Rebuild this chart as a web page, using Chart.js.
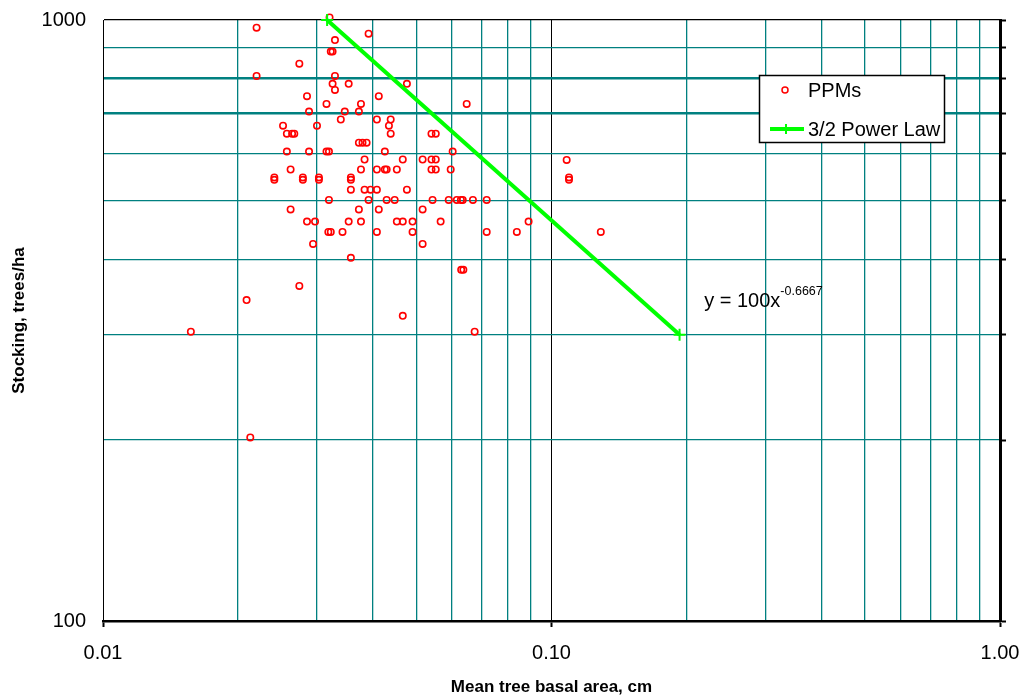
<!DOCTYPE html>
<html>
<head>
<meta charset="utf-8">
<script src="https://cdn.jsdelivr.net/npm/chart.js@4.4.1/dist/chart.umd.min.js"></script>
<style>
  html, body { margin: 0; padding: 0; background: #ffffff; }
  #wrap { width: 1025px; height: 696px; }
</style>
</head>
<body>
<div id="wrap"><canvas id="chart" width="1025" height="696"></canvas></div>
<script>
// PPM plots: mean tree basal area vs stocking (trees/ha)
const basalArea = [
  0.0320,
  0.0220,
  0.0391,
  0.0329,
  0.0322, 0.0325,
  0.0274,
  0.0220, 0.0329,
  0.0325, 0.0353, 0.0476,
  0.0329,
  0.0285, 0.0412,
  0.0315, 0.0376, 0.0647,
  0.0288, 0.0346, 0.0372,
  0.0339, 0.0408, 0.0438,
  0.0252, 0.0300, 0.0434,
  0.0257, 0.0264, 0.0267, 0.0438, 0.0540, 0.0552,
  0.0372, 0.0379, 0.0387,
  0.0257, 0.0288, 0.0315, 0.0319, 0.0425, 0.0602,
  0.0383, 0.0466, 0.0516, 0.0540, 0.0552, 0.1081,
  0.0262, 0.0376, 0.0408, 0.0425, 0.0429, 0.0452, 0.0540, 0.0552, 0.0596,
  0.0241, 0.0279, 0.0303, 0.0357, 0.1094,
  0.0241, 0.0279, 0.0303, 0.0357, 0.1094,
  0.0357, 0.0383, 0.0395, 0.0408, 0.0476,
  0.0319, 0.0391, 0.0429, 0.0447, 0.0543, 0.0590, 0.0615, 0.0628, 0.0634, 0.0668, 0.0717,
  0.0262, 0.0372, 0.0412, 0.0516,
  0.0285, 0.0297, 0.0353, 0.0376, 0.0452, 0.0466, 0.0490, 0.0566, 0.0889,
  0.0318, 0.0322, 0.0342, 0.0408, 0.0490, 0.0717, 0.0837, 0.1288,
  0.0294, 0.0516,
  0.0357,
  0.0629, 0.0636,
  0.0274,
  0.0209,
  0.0466,
  0.0157, 0.0674,
  0.0213
];
const stocking = [
  1010,
  971,
  949,
  926,
  886, 886,
  846,
  807, 807,
  783, 783, 783,
  765,
  747, 747,
  725, 725, 725,
  704, 704, 704,
  683, 683, 683,
  667, 667, 667,
  647, 647, 647, 647, 647, 647,
  625, 625, 625,
  604, 604, 604, 604, 604, 604,
  586, 586, 586, 586, 586, 585,
  564, 564, 564, 564, 564, 564, 564, 564, 564,
  547, 547, 547, 547, 547,
  542, 542, 542, 542, 542,
  522, 522, 522, 522, 522,
  502, 502, 502, 502, 502, 502, 502, 502, 502, 502, 502,
  484, 484, 484, 484,
  462, 462, 462, 462, 462, 462, 462, 462, 462,
  444, 444, 444, 444, 444, 444, 444, 444,
  424, 424,
  402,
  384, 384,
  361,
  342,
  322,
  303, 303,
  202
];

// 3/2 power law, y = 100x^-0.6667, between its two end points
const lawX = [0.0316, 0.193];
const lawY = [1000, 299.5];

// Log-scale tick positions and the ones that carry a label
const xTicks = [0.01, 0.02, 0.03, 0.04, 0.05, 0.06, 0.07, 0.08, 0.09,
                0.1, 0.2, 0.3, 0.4, 0.5, 0.6, 0.7, 0.8, 0.9, 1];
const xLabelled = [0.01, 0.1, 1];
const yTicks = [100, 200, 300, 400, 500, 600, 700, 800, 900, 1000];
const yLabelled = [100, 1000];
const yHeavy = [700, 800];

const TEAL = '#008080';
const FONT = "'Liberation Sans', Arial, Helvetica, sans-serif";

const ppmPoints = basalArea.map((x, i) => ({ x: x, y: stocking[i] }));
const lawPoints = lawX.map((x, i) => ({ x: x, y: lawY[i] }));

const setTicks = (list) => (scale) => { scale.ticks = list.map(v => ({ value: v })); };
const near = (a, b) => Math.abs(a - b) < 1e-9;

// Fix each axis box size and drop the label overhang padding
const fixBox = (w, h) => (s) => {
  if (w !== null) s.width = w;
  if (h !== null) s.height = h;
  s.paddingTop = 0; s.paddingBottom = 0; s.paddingLeft = 0; s.paddingRight = 0;
};

// Framed legend drawn inside the plot
const boxedLegend = {
  id: 'boxedLegend',
  afterDraw(chart) {
    const ctx = chart.ctx;
    const ds = chart.data.datasets;
    const x0 = 759.5, y0 = 75.5, w = 185, h = 67;
    ctx.save();
    ctx.fillStyle = '#ffffff';
    ctx.fillRect(x0, y0, w, h);
    ctx.strokeStyle = '#000000';
    ctx.lineWidth = 1.5;
    ctx.strokeRect(x0, y0, w, h);

    ctx.font = '20px ' + FONT;
    ctx.fillStyle = '#000000';
    ctx.textBaseline = 'middle';
    ctx.textAlign = 'left';

    // PPMs marker
    ctx.beginPath();
    ctx.arc(785, 90, 3, 0, Math.PI * 2);
    ctx.strokeStyle = ds[0].pointBorderColor;
    ctx.lineWidth = 1.5;
    ctx.stroke();
    ctx.fillText(ds[0].label, 808, 91);

    // power law line with its cross marker
    ctx.strokeStyle = ds[1].borderColor;
    ctx.lineWidth = 4;
    ctx.beginPath();
    ctx.moveTo(770, 129);
    ctx.lineTo(804, 129);
    ctx.stroke();
    ctx.lineWidth = 2;
    ctx.beginPath();
    ctx.moveTo(786, 124);
    ctx.lineTo(786, 134);
    ctx.stroke();
    ctx.fillText(ds[1].label, 808, 130);
    ctx.restore();
  }
};

// Equation of the power law line
const equationLabel = {
  id: 'equationLabel',
  afterDraw(chart) {
    const ctx = chart.ctx;
    const px = chart.scales.x.getPixelForValue(0.219);
    const py = chart.scales.y.getPixelForValue(333);
    ctx.save();
    ctx.fillStyle = '#000000';
    ctx.textBaseline = 'alphabetic';
    ctx.textAlign = 'left';
    ctx.font = '20px ' + FONT;
    const base = 'y = 100x';
    ctx.fillText(base, px, py);
    const w = ctx.measureText(base).width;
    ctx.font = '12.5px ' + FONT;
    ctx.fillText('-0.6667', px + w, py - 12);
    ctx.restore();
  }
};

new Chart(document.getElementById('chart'), {
  type: 'scatter',
  data: {
    datasets: [
      {
        label: 'PPMs',
        data: ppmPoints,
        showLine: false,
        pointStyle: 'circle',
        pointRadius: 3.2,
        pointHoverRadius: 3.2,
        pointBorderWidth: 1.6,
        pointBorderColor: '#ff0000',
        pointBackgroundColor: 'rgba(255,255,255,0)',
        order: 2,
        clip: false
      },
      {
        label: '3/2 Power Law',
        data: lawPoints,
        showLine: true,
        borderColor: '#00ff00',
        borderWidth: 4,
        pointStyle: 'cross',
        pointRadius: 6,
        pointHoverRadius: 6,
        pointBorderWidth: 2,
        pointBorderColor: '#00ff00',
        pointBackgroundColor: '#00ff00',
        order: 1,
        clip: false
      }
    ]
  },
  options: {
    responsive: false,
    animation: false,
    events: [],
    layout: { padding: { top: 20, left: 0, right: 0, bottom: 0 } },
    plugins: { legend: { display: false }, tooltip: { enabled: false } },
    scales: {
      x: {
        type: 'logarithmic',
        position: 'bottom',
        min: 0.01,
        max: 1,
        afterBuildTicks: setTicks(xTicks),
        afterFit: fixBox(null, 75),
        ticks: {
          autoSkip: false,
          maxRotation: 0,
          padding: 14,
          color: '#000000',
          font: { family: FONT, size: 20 },
          callback: (v) => xLabelled.some(t => near(t, v)) ? Number(v).toFixed(2) : ''
        },
        grid: {
          color: (c) => (c.tick && xLabelled.some(t => near(t, c.tick.value))) ? '#000000' : TEAL,
          lineWidth: (c) => (c.tick && xLabelled.some(t => near(t, c.tick.value))) ? 1 : 1.3,
          drawTicks: true,
          tickLength: 6,
          tickWidth: 2,
          tickColor: (c) => (c.tick && xLabelled.some(t => near(t, c.tick.value))) ? '#000000' : 'rgba(0,0,0,0)'
        },
        border: { display: true, color: '#000000', width: 2.5 },
        title: {
          display: true,
          text: 'Mean tree basal area, cm',
          color: '#000000',
          font: { family: FONT, size: 17, weight: 'bold' },
          padding: { top: 0, bottom: -2 }
        }
      },
      y: {
        type: 'logarithmic',
        position: 'left',
        min: 100,
        max: 1000,
        afterBuildTicks: setTicks(yTicks),
        afterFit: fixBox(103, null),
        ticks: {
          autoSkip: false,
          padding: 17,
          color: '#000000',
          font: { family: FONT, size: 20 },
          callback: (v) => yLabelled.some(t => near(t, v)) ? String(v) : ''
        },
        grid: {
          color: (c) => (c.tick && (near(c.tick.value, 1000) || near(c.tick.value, 100))) ? '#000000' : TEAL,
          lineWidth: (c) => (c.tick && yHeavy.some(t => near(t, c.tick.value))) ? 2.5 : 1.3,
          drawTicks: false
        },
        border: { display: true, color: '#000000', width: 1 },
        title: {
          display: true,
          text: 'Stocking, trees/ha',
          color: '#000000',
          font: { family: FONT, size: 17, weight: 'bold' },
          padding: { top: 9, bottom: 0 }
        }
      },
      y2: {
        type: 'logarithmic',
        position: 'right',
        min: 100,
        max: 1000,
        afterBuildTicks: setTicks(yTicks),
        afterFit: fixBox(25, null),
        ticks: { display: false },
        grid: {
          drawOnChartArea: false,
          drawTicks: true,
          tickLength: 6,
          tickWidth: 2,
          tickColor: '#000000'
        },
        border: { display: true, color: '#000000', width: 3 }
      }
    }
  },
  plugins: [boxedLegend, equationLabel]
});
</script>
</body>
</html>
